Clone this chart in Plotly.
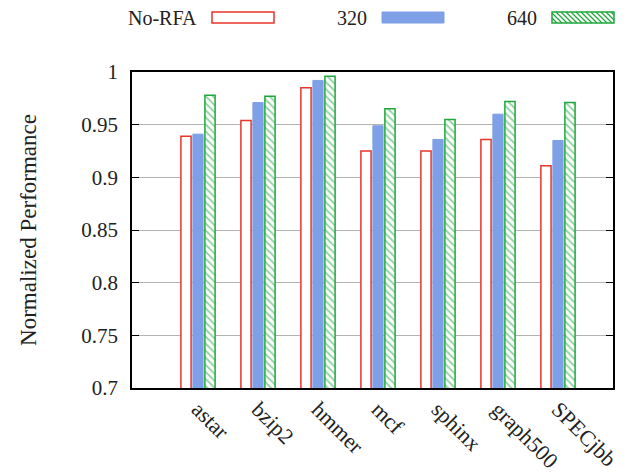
import plotly.graph_objects as go

categories = ["astar", "bzip2", "hmmer", "mcf", "sphinx", "graph500", "SPECjbb"]
no_rfa = [0.939, 0.954, 0.985, 0.925, 0.925, 0.936, 0.911]
v320 = [0.941, 0.971, 0.992, 0.949, 0.936, 0.960, 0.935]
v640 = [0.978, 0.977, 0.996, 0.965, 0.955, 0.972, 0.971]
series_names = ["No-RFA", "320", "640"]
y_ticks = [0.7, 0.75, 0.8, 0.85, 0.9, 0.95, 1]

RED = "#e8352a"
BLUE = "#7f9fe6"
GREEN = "#1ea83c"
FONT = "Liberation Serif"
TXT = "#222"

fig = go.Figure()
fig.add_bar(x=categories, y=no_rfa, name=series_names[0],
            marker=dict(color="white", line=dict(color=RED, width=1.5)))
fig.add_bar(x=categories, y=v320, name=series_names[1],
            marker=dict(color=BLUE, line=dict(color=BLUE, width=1)))
fig.add_bar(x=categories, y=v640, name=series_names[2],
            marker=dict(color="white", line=dict(color=GREEN, width=1.5),
                        pattern=dict(shape="\\", fgcolor=GREEN, bgcolor="white",
                                     size=5, solidity=0.35)))

# page body has an 8px offset; target pixel layout in window coords
OFF = 8
W, H = 631 - OFF, 474 - OFF
L, R, T, B = 132 - OFF, 18, 72 - OFF, 86
pw, ph = W - L - R, H - T - B

def px(x):
    return (x - OFF - L) / pw

def py(y):
    return (H - B - (y - OFF)) / ph

shapes = []
annotations = []
legend_items = [
    (series_names[0], 199, 212, 274, dict(fillcolor="white", line=dict(color=RED, width=1.5))),
    (series_names[1], 369, 382, 444, dict(fillcolor=BLUE, line=dict(color=BLUE, width=1))),
    (series_names[2], 539, 552, 614, dict(fillcolor="white", line=dict(color=GREEN, width=1.5))),
]
y0, y1 = 12, 23
for name, tx, bx0, bx1, style in legend_items:
    annotations.append(dict(text=name, x=px(tx), y=py(18), xref="paper", yref="paper",
                            xanchor="right", yanchor="middle", showarrow=False,
                            font=dict(family=FONT, size=20, color=TXT)))
    shapes.append(dict(type="rect", xref="paper", yref="paper",
                       x0=px(bx0), x1=px(bx1), y0=py(y1), y1=py(y0), **style))

# hatch for the 640 legend sample
bx0, bx1 = 552, 614
h = y1 - y0
s = bx0 - h
while s < bx1:
    xa, ya = s, y0
    xb, yb = s + h, y1
    if xa < bx0:
        ya = y0 + (bx0 - xa)
        xa = bx0
    if xb > bx1:
        yb = y1 - (xb - bx1)
        xb = bx1
    if xb > xa:
        shapes.append(dict(type="line", xref="paper", yref="paper",
                           x0=px(xa), y0=py(ya), x1=px(xb), y1=py(yb),
                           line=dict(color=GREEN, width=1.2)))
    s += 5

fig.update_layout(
    width=W, height=H,
    margin=dict(l=L, r=R, t=T, b=B),
    paper_bgcolor="white", plot_bgcolor="white",
    barmode="group", bargap=0.4, bargroupgap=0.15,
    showlegend=False,
    font=dict(family=FONT, size=21, color=TXT),
    shapes=shapes, annotations=annotations,
)
fig.update_xaxes(range=[-1.1, 6.917], tickangle=45, showline=True, linecolor="black",
                 linewidth=1.5, mirror=True, ticks="", showgrid=False, automargin=False,
                 ticklabelstandoff=-2,
                 tickfont=dict(family=FONT, size=22, color=TXT))
fig.update_yaxes(range=[0.7, 1], tickvals=y_ticks, showline=True, linecolor="black",
                 linewidth=1.5, mirror="ticks", ticks="inside", ticklen=7,
                 tickcolor="black", showgrid=True, gridcolor="#b4b4b4", gridwidth=1,
                 zeroline=False, ticklabelstandoff=8, automargin=False,
                 tickfont=dict(family=FONT, size=21, color=TXT),
                 title=dict(text="Normalized Performance", standoff=38,
                            font=dict(family=FONT, size=23, color=TXT)))

fig.write_html("out.html")
